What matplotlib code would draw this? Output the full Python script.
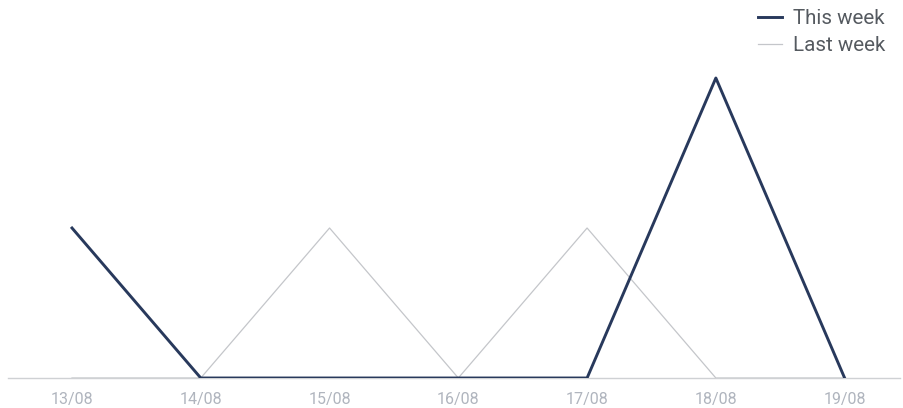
import matplotlib
matplotlib.use("Agg")
import matplotlib.pyplot as plt

plt.rcParams['font.family'] = ['Roboto', 'DejaVu Sans']

days = ["13/08", "14/08", "15/08", "16/08", "17/08", "18/08", "19/08"]
this_week = [1, 0, 0, 0, 0, 2, 0]
last_week = [0, 0, 1, 0, 1, 0, 0]

fig = plt.figure(figsize=(9.04, 4.08), dpi=100)
ax = fig.add_axes([8 / 904, 30 / 408, 892 / 904, 375 / 408])

x = range(len(days))
ax.plot(x, last_week, color="#c4c6ca", lw=0.9, label="Last week", zorder=2)
ax.plot(x, this_week, color="#28395c", lw=2.1, label="This week", zorder=3)

ax.set_xlim(-0.497, 6.43)
ax.set_ylim(0, 2.5)
ax.set_xticks(list(x))
ax.set_xticklabels(days)
ax.set_yticks([])
for side in ["top", "right", "left"]:
    ax.spines[side].set_visible(False)
ax.spines["bottom"].set_color("#cfd1d4")
ax.spines["bottom"].set_linewidth(1)
ax.tick_params(axis="x", length=0, pad=10, labelsize=11.5, labelcolor="#b0b5be")

# legend sits top right, "This week" first
handles, labels = ax.get_legend_handles_labels()
leg = fig.legend(handles[::-1], labels[::-1], loc="upper right",
                 bbox_to_anchor=(885 / 904, 1 - 9 / 408), frameon=False,
                 borderpad=0, borderaxespad=0,
                 fontsize=14.8, handlelength=1.2, handletextpad=0.5,
                 labelspacing=0.4, labelcolor="#555a60")

fig.savefig("out.png", dpi=100)
